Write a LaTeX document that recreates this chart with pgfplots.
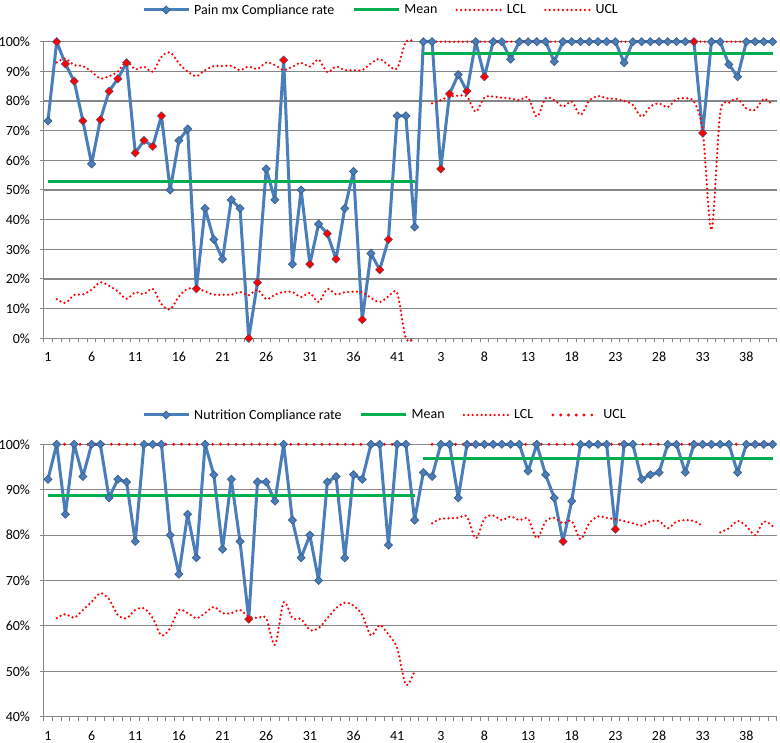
\documentclass[border=0pt]{standalone}
\usepackage{fontspec}
\setmainfont{Carlito}
\usepackage{pgfplots}
\pgfplotsset{compat=1.18}
\definecolor{cblue}{RGB}{74,126,187}
\definecolor{cblueD}{RGB}{56,93,138}
\definecolor{cgreen}{RGB}{0,176,80}
\definecolor{cgrid}{RGB}{134,134,134}
\newcommand{\fs}{\fontsize{14bp}{17bp}\selectfont}
\pgfplotsset{
  spc/.style={
    scale only axis, width=733.3bp,
    xmin=0.5, xmax=84.5,
    axis lines*=left,
    axis line style={cgrid, line width=1bp},
    ymajorgrids, grid style={cgrid, line width=1.1bp},
    xtick={1,6,11,16,21,26,31,36,41,46,51,56,61,66,71,76,81},
    xticklabels={1,6,11,16,21,26,31,36,41,3,8,13,18,23,28,33,38},
    minor xtick={0.5,1.5,...,84.5},
    minor y tick num=0,
    tick align=outside, major tick length=4bp, minor tick length=4bp,
    tick style={cgrid, line width=1bp},
    major x tick style={draw=none},
    tick label style={font=\fs, inner sep=0pt, text=black},
    xticklabel style={anchor=base, yshift=-19.6bp},
    yticklabel style={anchor=east, xshift=-9.4bp},
    /pgf/number format/assume math mode=true,
    clip=false,
    legend columns=4,
    legend cell align=left,
    legend style={draw=none, fill=none, inner sep=0pt, font=\fs,
      /tikz/every odd column/.append style={column sep=4bp},
      /tikz/every even column/.append style={column sep=18bp},
      nodes={inner sep=0pt}},
    legend image code/.code={\draw[mark repeat=2,mark phase=2,##1] plot coordinates {(0bp,0bp)(22.5bp,0bp)(45bp,0bp)};},
  },
  rate/.style={cblue, line width=3bp, line join=round, mark=square*, mark size=2.85bp,
    mark options={rotate=45, solid, fill=cblue, draw=cblueD, line width=0.7bp, line join=miter}},
  flag/.style={only marks, mark=square*, mark size=2.45bp,
    mark options={rotate=45, fill=red, draw=red, line width=0.3bp}},
  meanl/.style={cgreen, line width=3bp},
  lim/.style={red, line width=2.5bp, line cap=round, line join=round, dash pattern=on 0bp off 4.4bp, smooth},
  limbig/.style={red, line width=3.2bp, line cap=round, dash pattern=on 0bp off 7.8bp, smooth},
}
\begin{document}
\begin{tikzpicture}
\useasboundingbox (0,0) rectangle (780bp,743bp);
% ---------------- Top: Pain mx ----------------
\begin{axis}[spc, at={(43.6bp,404.7bp)}, anchor=south west, height=296.6bp,
  ymin=0, ymax=100, ytick={0,10,...,100},
  yticklabels={0\%,10\%,20\%,30\%,40\%,50\%,60\%,70\%,80\%,90\%,100\%},
  legend style={at={(axis description cs:0.1342,1.1069)}, anchor=west}]
\addplot[rate] coordinates {(1,73.3)(2,100)(3,92.5)(4,86.7)(5,73.3)(6,58.8)(7,73.7)(8,83.3)(9,87.5)(10,92.9)(11,62.5)(12,66.7)(13,64.7)(14,75)(15,50)(16,66.7)(17,70.6)(18,16.7)(19,43.8)(20,33.3)(21,26.7)(22,46.7)(23,43.8)(24,0)(25,18.8)(26,57.1)(27,46.7)(28,93.8)(29,25)(30,50)(31,25)(32,38.5)(33,35.3)(34,26.7)(35,43.8)(36,56.3)(37,6.3)(38,28.6)(39,23.1)(40,33.3)(41,75)(42,75)(43,37.5)
(44,100)(45,100)(46,57.1)(47,82.4)(48,88.9)(49,83.3)(50,100)(51,88.2)(52,100)(53,100)(54,94.1)(55,100)(56,100)(57,100)(58,100)(59,93.3)(60,100)(61,100)(62,100)(63,100)(64,100)(65,100)(66,100)(67,92.9)(68,100)(69,100)(70,100)(71,100)(72,100)(73,100)(74,100)(75,100)(76,69.2)(77,100)(78,100)(79,92.3)(80,88.2)(81,100)(82,100)(83,100)(84,100)};
\addlegendentry{Pain mx Compliance rate}
\addplot[meanl] coordinates {(1,53.0)(43,53.0)};
\addlegendentry{Mean}
\addplot[meanl, forget plot] coordinates {(44,96.0)(84,96.0)};
\addplot[lim] coordinates {(2,13.2)(3,11.9)(4,14.6)(5,14.8)(6,16.4)(7,18.9)(8,17.7)(9,15.8)(10,13.3)(11,15.5)(12,14.9)(13,16.7)(14,11.5)(15,9.8)(16,14.1)(17,16.7)(18,16.9)(19,15.8)(20,14.7)(21,14.7)(22,14.7)(23,15.6)(24,14.5)(25,16.4)(26,13.2)(27,14.7)(28,15.6)(29,15.6)(30,13.9)(31,15.3)(32,12.2)(33,16.7)(34,14.8)(35,15.5)(36,15.7)(37,15.6)(38,13.6)(39,12.2)(40,14.1)(41,15.3)(42,0)(43,0)};
\addlegendentry{LCL}
\addplot[lim, forget plot] coordinates {(45,79.2)(46,80.3)(47,81.5)(48,81.8)(49,81.5)(50,76.4)(51,81.2)(52,81.5)(53,81.1)(54,80.9)(55,80.3)(56,81.2)(57,74.7)(58,80.9)(59,80.3)(60,78.1)(61,79.8)(62,75.3)(63,80.1)(64,81.7)(65,80.9)(66,80.7)(67,80.0)(68,78.7)(69,74.7)(70,78.1)(71,79.2)(72,77.9)(73,80.7)(74,80.9)(75,79.8)(76,70)(77,36.5)(78,75.8)(79,79.4)(80,80.7)(81,77.5)(82,77.0)(83,80.7)(84,78.7)};
\addplot[lim] coordinates {(2,93.0)(3,94.3)(4,92.1)(5,91.8)(6,89.9)(7,87.6)(8,88.4)(9,89.9)(10,93.3)(11,90.7)(12,91.6)(13,89.9)(14,94.9)(15,96.4)(16,92.7)(17,89.9)(18,88.4)(19,90.4)(20,91.8)(21,91.8)(22,91.8)(23,90.4)(24,91.6)(25,90.8)(26,93.0)(27,92.1)(28,90.4)(29,91.6)(30,92.9)(31,91.6)(32,94.0)(33,89.7)(34,91.6)(35,90.4)(36,90.4)(37,90.4)(38,92.7)(39,94.2)(40,92.1)(41,91.0)(42,100)(43,100)};
\addlegendentry{UCL}
\addplot[lim, forget plot] coordinates {(45,100)(50,100)(55,100)(60,100)(65,100)(70,100)(75,100)(80,100)(84,100)};
\addplot[flag, forget plot] coordinates {(2,100)(3,92.5)(4,86.7)(5,73.3)(7,73.7)(8,83.3)(9,87.5)(10,92.9)(11,62.5)(12,66.7)(13,64.7)(14,75)(18,16.7)(24,0)(25,18.8)(28,93.8)(31,25)(33,35.3)(34,26.7)(37,6.3)(39,23.1)(40,33.3)(46,57.1)(47,82.4)(49,83.3)(51,88.2)(75,100)(76,69.2)};
\end{axis}
% ---------------- Bottom: Nutrition ----------------
\begin{axis}[spc, at={(43.6bp,26.3bp)}, anchor=south west, height=272.4bp,
  ymin=40, ymax=100, ytick={40,50,...,100},
  yticklabels={40\%,50\%,60\%,70\%,80\%,90\%,100\%},
  legend style={at={(axis description cs:0.1342,1.1076)}, anchor=west}]
\addplot[rate] coordinates {(1,92.3)(2,100)(3,84.6)(4,100)(5,92.9)(6,100)(7,100)(8,88.2)(9,92.3)(10,91.7)(11,78.6)(12,100)(13,100)(14,100)(15,80)(16,71.4)(17,84.6)(18,75)(19,100)(20,93.3)(21,76.9)(22,92.3)(23,78.6)(24,61.5)(25,91.7)(26,91.7)(27,87.5)(28,100)(29,83.3)(30,75)(31,80)(32,70)(33,91.7)(34,92.9)(35,75)(36,93.3)(37,92.3)(38,100)(39,100)(40,77.8)(41,100)(42,100)(43,83.3)
(44,93.8)(45,92.9)(46,100)(47,100)(48,88.2)(49,100)(50,100)(51,100)(52,100)(53,100)(54,100)(55,100)(56,94.1)(57,100)(58,93.3)(59,88.2)(60,78.6)(61,87.5)(62,100)(63,100)(64,100)(65,100)(66,81.3)(67,100)(68,100)(69,92.3)(70,93.3)(71,93.8)(72,100)(73,100)(74,93.8)(75,100)(76,100)(77,100)(78,100)(79,100)(80,93.8)(81,100)(82,100)(83,100)(84,100)};
\addlegendentry{Nutrition Compliance rate}
\addplot[meanl] coordinates {(1,88.8)(43,88.8)};
\addlegendentry{Mean}
\addplot[meanl, forget plot] coordinates {(44,96.8)(84,96.8)};
\addplot[lim] coordinates {(2,61.7)(3,62.6)(4,61.8)(5,63.5)(6,65.3)(7,67.2)(8,65.9)(9,62.4)(10,61.7)(11,63.5)(12,63.9)(13,61.7)(14,57.9)(15,59.5)(16,63.5)(17,62.8)(18,61.7)(19,62.8)(20,64.2)(21,62.8)(22,62.8)(23,63.5)(24,62.0)(25,61.8)(26,61.7)(27,55.8)(28,65.2)(29,61.7)(30,61.5)(31,59.1)(32,59.5)(33,61.7)(34,63.9)(35,65.1)(36,64.5)(37,62.4)(38,57.9)(39,60.2)(40,58.1)(41,55.1)(42,47.0)(43,50.1)};
\addlegendentry{LCL}
\addplot[lim, forget plot] coordinates {(45,82.6)(46,83.6)(47,83.7)(48,83.8)(49,84.1)(50,79.3)(51,83.7)(52,84.3)(53,83.3)(54,84.1)(55,83.3)(56,83.6)(57,79.3)(58,83.0)(59,83.8)(60,82.6)(61,83.1)(62,79.1)(63,82.6)(64,84.1)(65,83.8)(66,83.5)(67,83.1)(68,82.6)(69,82.1)(70,83.0)(71,83.1)(72,81.5)(73,83.0)(74,83.3)(75,83.1)(76,82.0)};
\addplot[lim, forget plot] coordinates {(78,80.6)(79,81.5)(80,83.1)(81,82.0)(82,80.0)(83,83.0)(84,82.0)};
\addplot[limbig] coordinates {(2,100)(10,100)(20,100)(30,100)(43,100)};
\addlegendentry{UCL}
\addplot[limbig, forget plot] coordinates {(45,100)(55,100)(65,100)(75,100)(84,100)};
\addplot[flag, forget plot] coordinates {(24,61.5)(60,78.6)(66,81.3)};
\end{axis}
\end{tikzpicture}
\end{document}
